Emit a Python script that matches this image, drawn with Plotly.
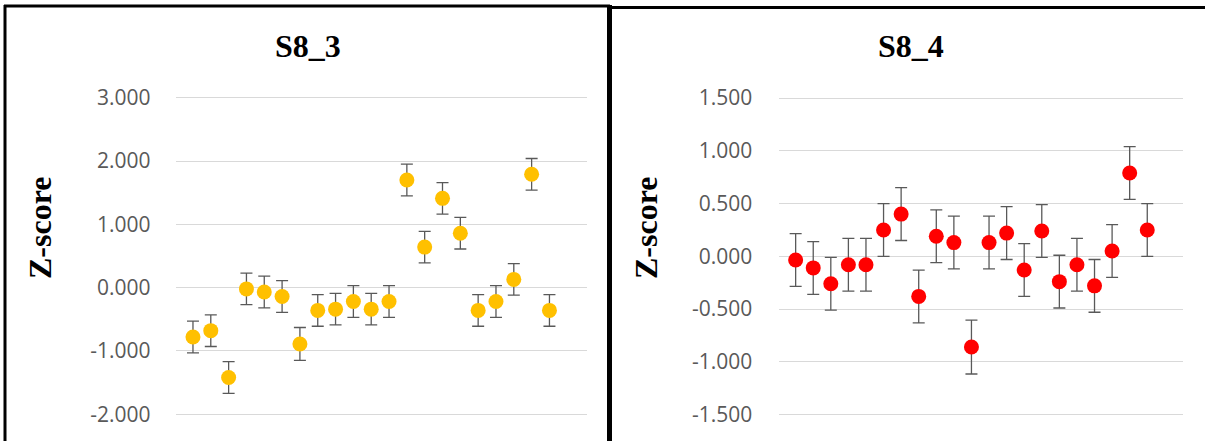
import plotly.graph_objects as go

W, H = 1205, 441

# Sample index (21 points per panel)
samples = list(range(1, 22))

# S8_3 panel
s83_z = [-0.78, -0.68, -1.42, -0.02, -0.07, -0.14, -0.89, -0.36, -0.34, -0.22, -0.34,
         -0.22, 1.70, 0.64, 1.41, 0.86, -0.36, -0.22, 0.13, 1.79, -0.36]
s83_err = [0.25, 0.25, 0.25, 0.25, 0.25, 0.25, 0.26, 0.25, 0.25, 0.25, 0.25,
           0.25, 0.25, 0.25, 0.25, 0.25, 0.25, 0.25, 0.25, 0.25, 0.25]
s83_ticks = [-2, -1, 0, 1, 2, 3]
s83_ticktext = ["-2.000", "-1.000", "0.000", "1.000", "2.000", "3.000"]

# S8_4 panel
s84_z = [-0.035, -0.11, -0.26, -0.08, -0.08, 0.25, 0.40, -0.38, 0.19, 0.13, -0.86,
         0.13, 0.22, -0.13, 0.24, -0.24, -0.08, -0.28, 0.05, 0.79, 0.25]
s84_err = [0.25, 0.25, 0.25, 0.25, 0.25, 0.25, 0.25, 0.25, 0.25, 0.25, 0.255,
           0.25, 0.25, 0.25, 0.25, 0.25, 0.25, 0.25, 0.25, 0.25, 0.25]
s84_ticks = [-1.5, -1.0, -0.5, 0, 0.5, 1.0, 1.5]
s84_ticktext = ["-1.500", "-1.000", "-0.500", "0.000", "0.500", "1.000", "1.500"]


def px_x(p):
    return p / W


def px_y(p):
    return 1 - p / H


err_style = dict(type="data", visible=True, color="#595959", thickness=1.3, width=6)

fig = go.Figure()
fig.add_trace(go.Scatter(
    x=samples, y=s83_z, mode="markers", xaxis="x", yaxis="y",
    marker=dict(size=15, color="#FFC000", line=dict(width=0)),
    error_y=dict(array=s83_err, **err_style), showlegend=False))
fig.add_trace(go.Scatter(
    x=samples, y=s84_z, mode="markers", xaxis="x2", yaxis="y2",
    marker=dict(size=15, color="#FF0000", line=dict(width=0)),
    error_y=dict(array=s84_err, **err_style), showlegend=False))

tick_font = dict(family="Open Sans", size=21, color="#595959")
axis_common = dict(showgrid=True, gridcolor="#D9D9D9", gridwidth=1, zeroline=False,
                   showline=False, ticks="", tickfont=tick_font, automargin=False)
xaxis_common = dict(showgrid=False, zeroline=False, showticklabels=False, ticks="",
                    automargin=False)

fig.update_layout(
    width=W, height=H,
    margin=dict(l=0, r=0, t=0, b=0, autoexpand=False),
    paper_bgcolor="white", plot_bgcolor="white",
    xaxis=dict(domain=[px_x(175.5), px_x(586.7)], range=[0.02, 23.09], **xaxis_common),
    yaxis=dict(domain=[0, px_y(96)], range=[-2.423, 3.027], anchor="x",
               tickvals=s83_ticks, ticktext=s83_ticktext, ticklabelstandoff=24, **axis_common),
    xaxis2=dict(domain=[px_x(779.3), px_x(1183.3)], range=[0.07, 23.05], anchor="y2",
                **xaxis_common),
    yaxis2=dict(domain=[0, px_y(96)], range=[-1.750, 1.519], anchor="x2",
                tickvals=s84_ticks, ticktext=s84_ticktext, ticklabelstandoff=26, **axis_common),
)

title_font = dict(family="Liberation Serif", size=32, color="black", weight="bold")
annotations = [
    dict(text="S8_3", x=px_x(308), y=px_y(46)),
    dict(text="S8_4", x=px_x(911), y=px_y(46)),
    dict(text="Z-score", x=px_x(40), y=px_y(228), textangle=-90),
    dict(text="Z-score", x=px_x(646), y=px_y(228), textangle=-90),
]
for a in annotations:
    fig.add_annotation(xref="paper", yref="paper", showarrow=False,
                       xanchor="center", yanchor="middle", font=title_font, **a)

# Panel borders
border = dict(type="line", xref="paper", yref="paper", line=dict(color="black", width=3))
fig.add_shape(x0=px_x(5), x1=px_x(5), y0=0, y1=px_y(5), **border)
fig.add_shape(x0=px_x(4), x1=px_x(610), y0=px_y(6), y1=px_y(6), **border)
fig.add_shape(type="line", xref="paper", yref="paper",
              x0=px_x(609.5), x1=px_x(609.5), y0=0, y1=px_y(5),
              line=dict(color="black", width=5))
fig.add_shape(x0=px_x(609), x1=1, y0=px_y(7.5), y1=px_y(7.5), **border)

# drop the default page margin so the figure sits at the window origin
fig.write_html("out.html", config={"displayModeBar": False},
               post_script="document.body.style.margin='0';document.body.style.overflow='hidden';")
